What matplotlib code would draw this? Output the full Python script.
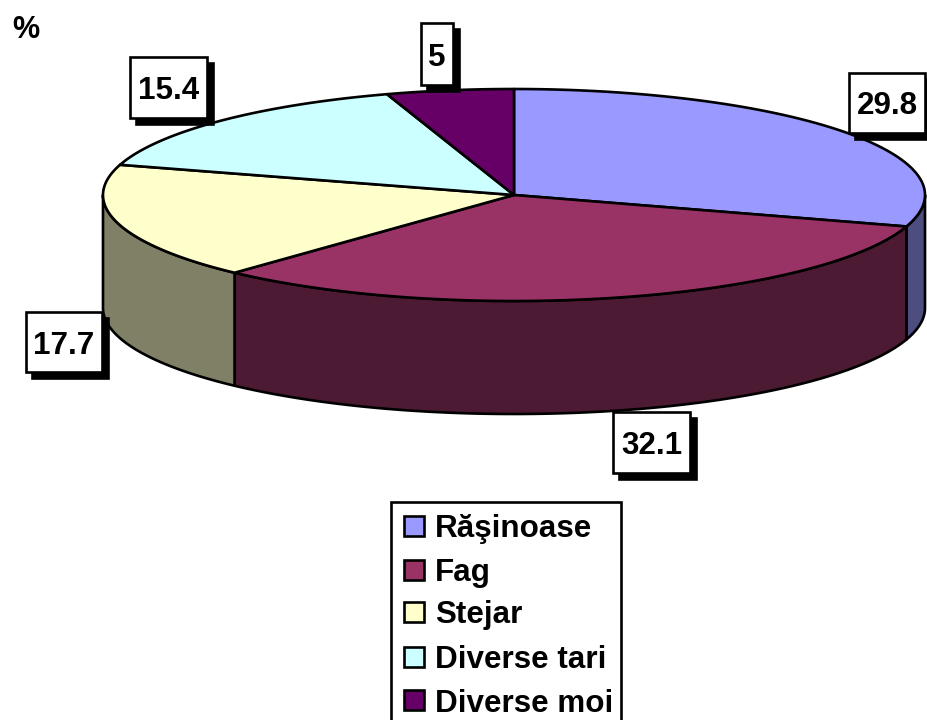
import numpy as np
import matplotlib
matplotlib.use("Agg")
import matplotlib.pyplot as plt
from matplotlib.patches import Rectangle
from matplotlib.colors import to_rgb

plt.rcParams['font.family'] = ['Liberation Sans', 'DejaVu Sans']

categories = ["Răşinoase", "Fag", "Stejar", "Diverse tari", "Diverse moi"]
values = [29.8, 32.1, 17.7, 15.4, 5]
value_labels = ["29.8", "32.1", "17.7", "15.4", "5"]
colors = ["#9999FF", "#993366", "#FFFFCC", "#CCFFFF", "#660066"]

# pie geometry in pixels
cx, cy = 514, 195
rx, ry = 411, 106
depth = 113
lw = 1.9

# label boxes: left, top, right, bottom
boxes = [(849, 73, 925, 133), (613, 412, 690, 473), (26, 312, 102, 372),
         (130, 57, 207, 118), (421, 23, 453, 85)]

fig = plt.figure(figsize=(9.28, 7.2), dpi=100)
ax = fig.add_axes([0, 0, 1, 1])
ax.set_xlim(0, 928)
ax.set_ylim(720, 0)
ax.axis("off")


def rim(a, b, dy=0):
    t = np.radians(np.linspace(a, b, max(int(abs(b - a) * 2), 2)))
    return cx + rx * np.sin(t), cy + dy - ry * np.cos(t)


edges = np.cumsum([0] + values) / sum(values) * 360

# outer wall, only the front half shows
for i in range(len(values)):
    a, b = max(edges[i], 90), min(edges[i + 1], 270)
    if a >= b:
        continue
    x1, y1 = rim(a, b)
    x2, y2 = rim(b, a, depth)
    dark = [c * 0.5 for c in to_rgb(colors[i])]
    ax.fill(np.r_[x1, x2], np.r_[y1, y2], facecolor=dark, edgecolor="black",
            linewidth=lw, joinstyle="round", zorder=2)

# top face
for i in range(len(values)):
    x1, y1 = rim(edges[i], edges[i + 1])
    ax.fill(np.r_[cx, x1], np.r_[cy, y1], facecolor=colors[i], edgecolor="black",
            linewidth=lw, joinstyle="round", zorder=3)

# data labels with drop shadow
for (l, t, r, b), txt in zip(boxes, value_labels):
    ax.add_patch(Rectangle((l + 6, t + 6), r - l, b - t, facecolor="black",
                           edgecolor="black", linewidth=lw, zorder=5))
    ax.add_patch(Rectangle((l, t), r - l, b - t, facecolor="white",
                           edgecolor="black", linewidth=lw, zorder=6))
    ax.text((l + r) / 2, (t + b) / 2, txt, ha="center", va="center_baseline",
            fontsize=22.6, fontweight="bold", color="black", zorder=7)

ax.text(12, 27, "%", ha="left", va="center_baseline", fontsize=22,
        fontweight="bold", color="black")

# legend
ax.add_patch(Rectangle((391, 502), 230, 240, facecolor="white", edgecolor="black",
                       linewidth=lw, zorder=4, clip_on=True))
legend_y = [526, 570, 612, 657, 700]
for name, col, y in zip(categories, colors, legend_y):
    ax.add_patch(Rectangle((404, y - 10), 20, 20, facecolor=col, edgecolor="black",
                           linewidth=lw, zorder=5))
    ax.text(435, y, name, ha="left", va="center_baseline", fontsize=22.6,
            fontweight="bold", color="black", zorder=6)

fig.savefig("out.png", dpi=100)
